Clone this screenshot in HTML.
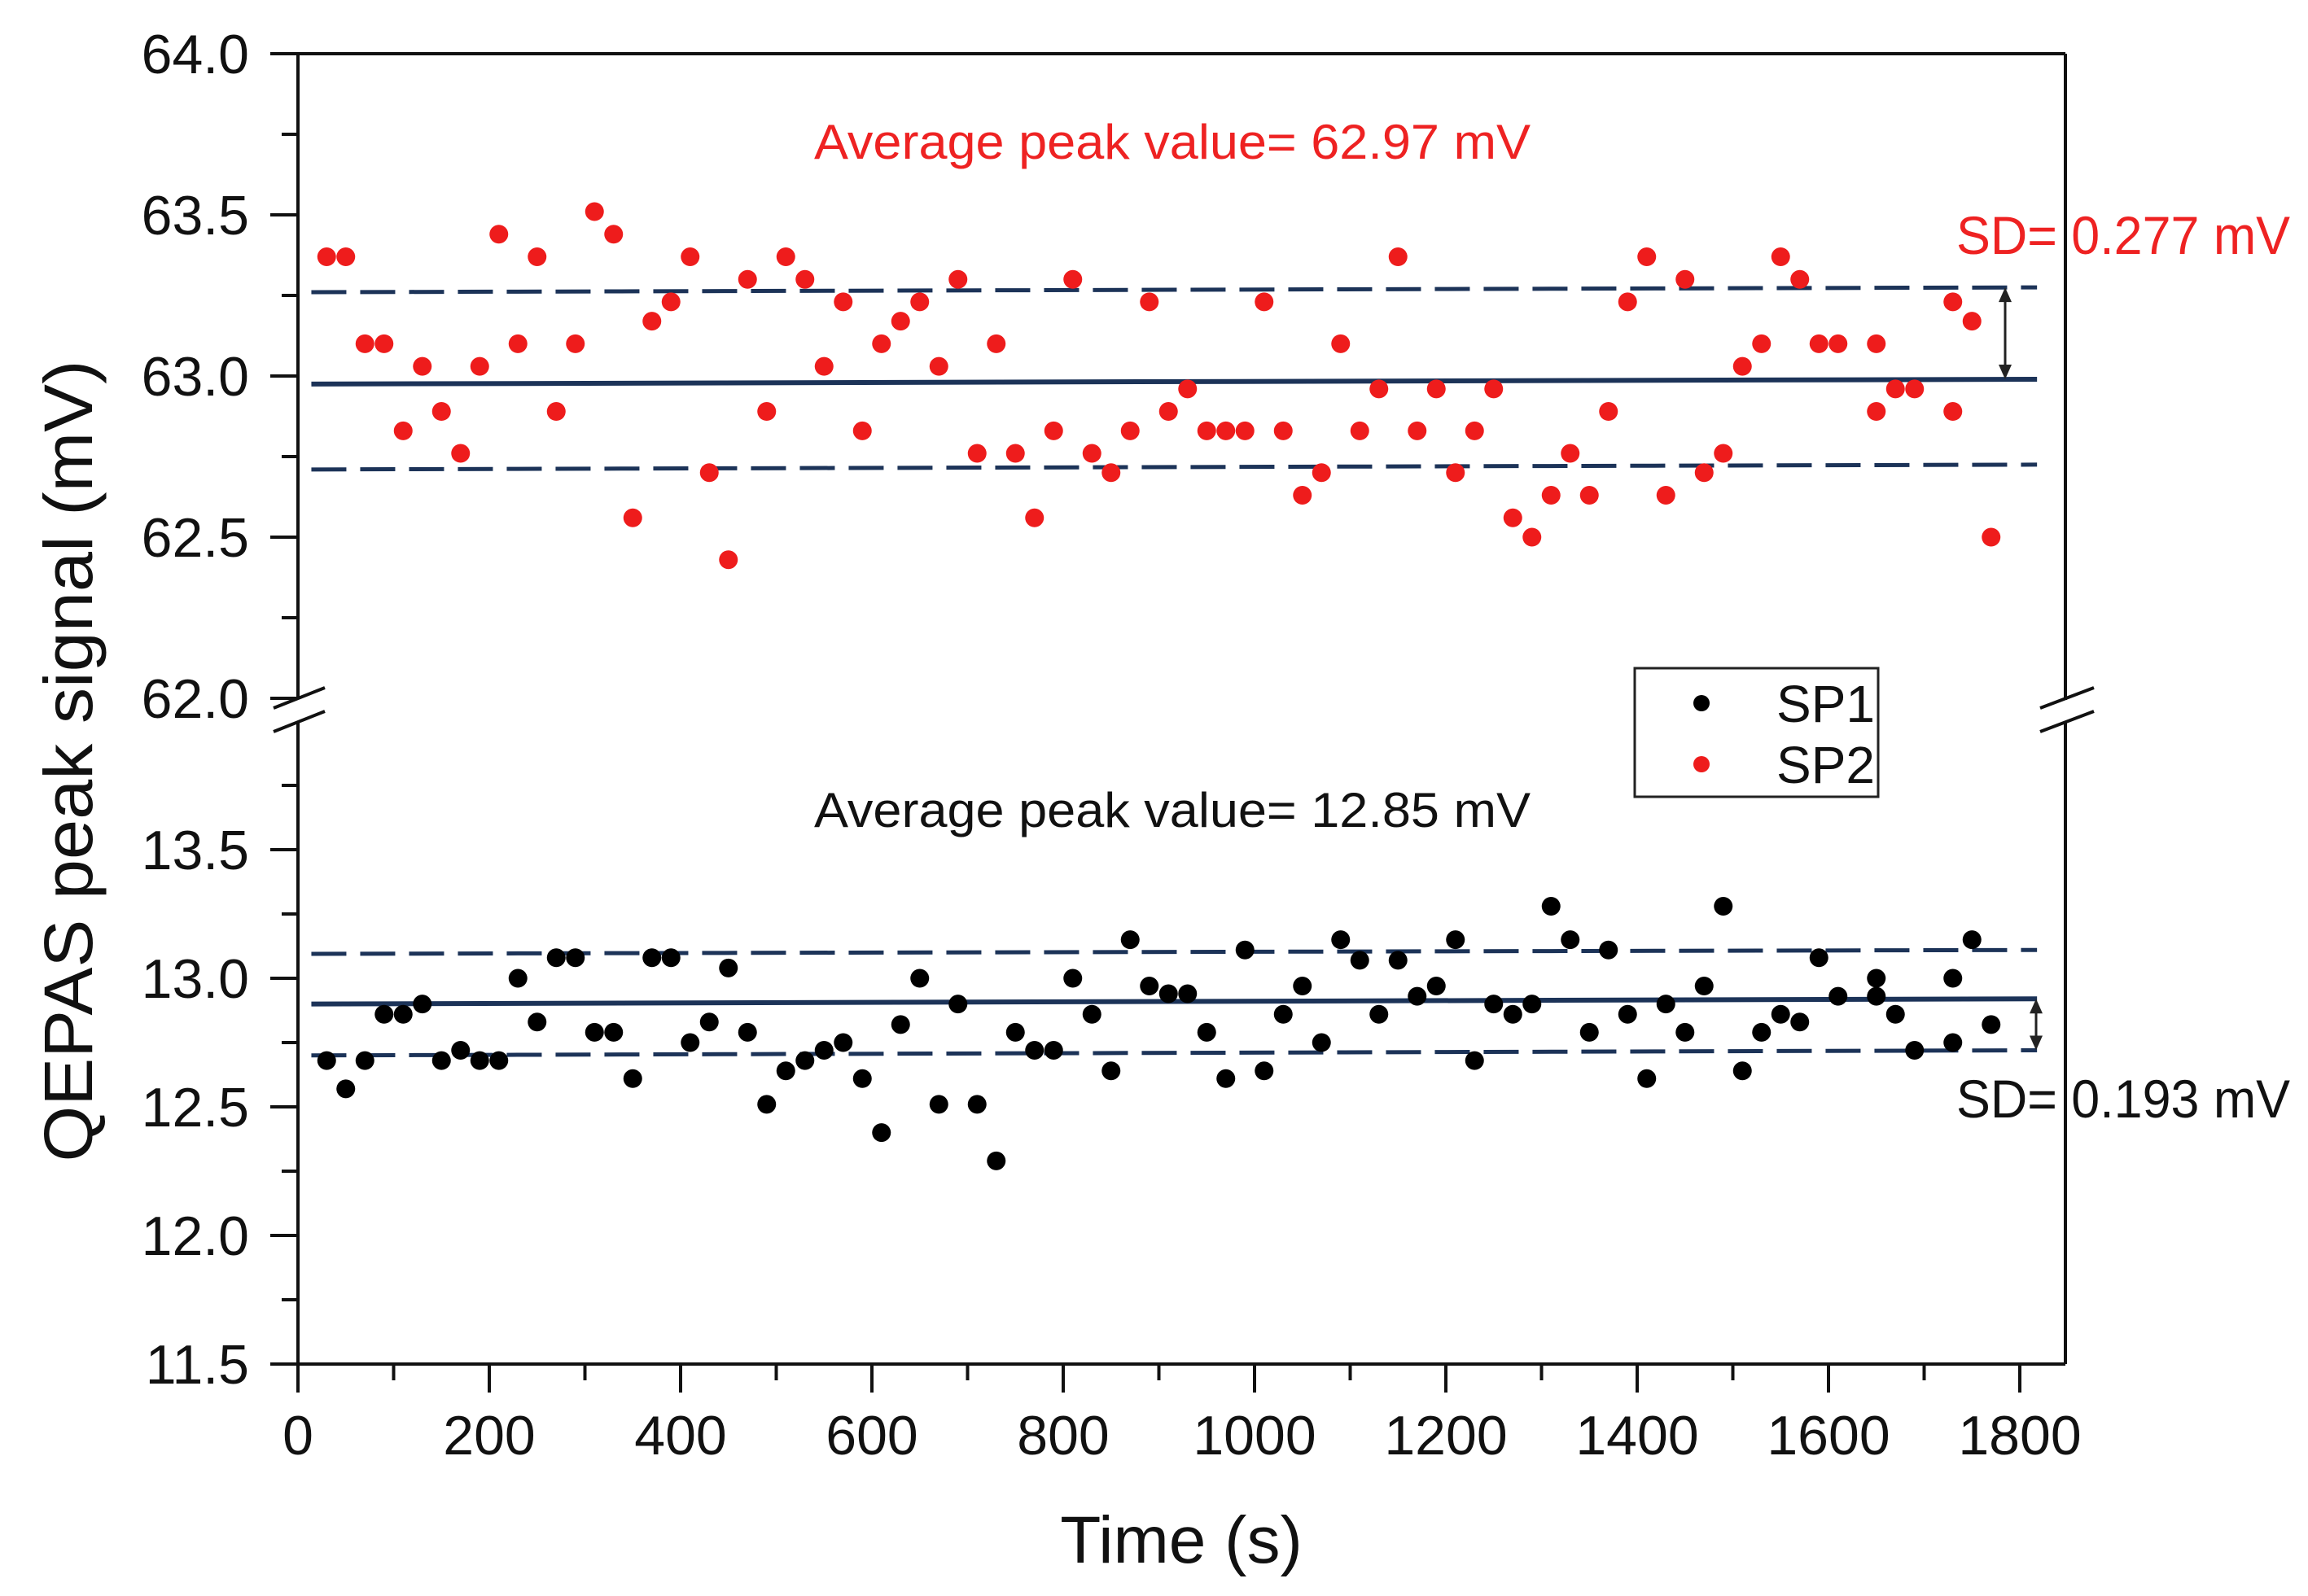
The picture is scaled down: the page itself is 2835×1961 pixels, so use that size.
<!DOCTYPE html>
<html><head><meta charset="utf-8"><style>
html,body{margin:0;padding:0;background:#fff;}
svg{display:block;}
text{font-family:"Liberation Sans",Arial,sans-serif;}
</style></head><body>
<svg id="chart" width="2835" height="1961" viewBox="0 0 2835 1961" xmlns="http://www.w3.org/2000/svg">
<rect width="2835" height="1961" fill="#fff"/>
<g id="axes"></g>
<g id="lines"></g>
<g id="marks"></g>
<g id="ann">
<text x="1000" y="195" font-size="60" fill="#ee2222" textLength="880" lengthAdjust="spacingAndGlyphs">Average peak value= 62.97 mV</text>
<text x="1000" y="1016" font-size="60" fill="#111" textLength="880" lengthAdjust="spacingAndGlyphs">Average peak value= 12.85 mV</text>
<text x="2403" y="312" font-size="66" fill="#ee2222" textLength="410" lengthAdjust="spacingAndGlyphs">SD= 0.277 mV</text>
<text x="2403" y="1373" font-size="66" fill="#111" textLength="410" lengthAdjust="spacingAndGlyphs">SD= 0.193 mV</text>
<text x="1451" y="1920" font-size="82" text-anchor="middle" fill="#111">Time (s)</text>
<text transform="translate(113,935) rotate(-90)" font-size="84" text-anchor="middle" fill="#111" textLength="985" lengthAdjust="spacingAndGlyphs">QEPAS peak signal (mV)</text>
</g>
<g id="legend">
<rect x="2008" y="821" width="299" height="158" fill="#fff" stroke="#222" stroke-width="3"/>
<circle cx="2090" cy="864" r="10" fill="#000"/>
<text x="2182" y="887" font-size="64" fill="#111">SP1</text>
<circle cx="2090" cy="939" r="10" fill="#ee1c1c"/>
<text x="2182" y="962" font-size="64" fill="#111">SP2</text>
</g>
</svg>
<script>
const sp2Times = [30,50,70,90,110,130,150,170,190,210,230,250,270,290,310,330,350,370,390,410,430,450,470,490,510,530,550,570,590,610,630,650,670,690,710,730,750,770,790,810,830,850,870,890,910,930,950,970,990,1010,1030,1050,1070,1090,1110,1130,1150,1170,1190,1210,1230,1250,1270,1290,1310,1330,1350,1370,1390,1410,1430,1450,1470,1490,1510,1530,1550,1570,1590,1610,1650,1650,1670,1690,1730,1730,1750,1770];
const sp2Values = [63.37,63.37,63.10,63.10,62.83,63.03,62.89,62.76,63.03,63.44,63.10,63.37,62.89,63.10,63.51,63.44,62.56,63.17,63.23,63.37,62.70,62.43,63.30,62.89,63.37,63.30,63.03,63.23,62.83,63.10,63.17,63.23,63.03,63.30,62.76,63.10,62.76,62.56,62.83,63.30,62.76,62.70,62.83,63.23,62.89,62.96,62.83,62.83,62.83,63.23,62.83,62.63,62.70,63.10,62.83,62.96,63.37,62.83,62.96,62.70,62.83,62.96,62.56,62.50,62.63,62.76,62.63,62.89,63.23,63.37,62.63,63.30,62.70,62.76,63.03,63.10,63.37,63.30,63.10,63.10,63.10,62.89,62.96,62.96,63.23,62.89,63.17,62.50];
const sp1Times = [30,50,70,90,110,130,150,170,190,210,230,250,270,290,310,330,350,370,390,410,430,450,470,490,510,530,550,570,590,610,630,650,670,690,710,730,750,770,790,810,830,850,870,890,910,930,950,970,990,1010,1030,1050,1070,1090,1110,1130,1150,1170,1190,1210,1230,1250,1270,1290,1310,1330,1350,1370,1390,1410,1430,1450,1470,1490,1510,1530,1550,1570,1590,1610,1650,1650,1670,1690,1730,1730,1750,1770];
const sp1Values = [12.68,12.57,12.68,12.86,12.86,12.90,12.68,12.72,12.68,12.68,13.00,12.83,13.08,13.08,12.79,12.79,12.61,13.08,13.08,12.75,12.83,13.04,12.79,12.51,12.64,12.68,12.72,12.75,12.61,12.40,12.82,13.00,12.51,12.90,12.51,12.29,12.79,12.72,12.72,13.00,12.86,12.64,13.15,12.97,12.94,12.94,12.79,12.61,13.11,12.64,12.86,12.97,12.75,13.15,13.07,12.86,13.07,12.93,12.97,13.15,12.68,12.90,12.86,12.90,13.28,13.15,12.79,13.11,12.86,12.61,12.90,12.79,12.97,13.28,12.64,12.79,12.86,12.83,13.08,12.93,13.00,12.93,12.86,12.72,13.00,12.75,13.15,12.82];
const upperFit = [62.975, 62.99];
const upperBand = [63.26, 63.275, 62.71, 62.725];
const lowerFit = [12.90, 12.92];
const lowerBand = [13.095, 13.11, 12.70, 12.72];
const fitTimes = [14, 1818];
const xTicks = [0,200,400,600,800,1000,1200,1400,1600,1800];
const upperTicks = [62.0,62.5,63.0,63.5,64.0];
const lowerTicks = [11.5,12.0,12.5,13.0,13.5];

const NS='http://www.w3.org/2000/svg';
const X0=366, XS=1.175, L=366, R=2537, TOP=66, BOT=1676;
const xs=t=>X0+t*XS;
const yU=v=>858-(v-62)*396;
const yL=v=>1676-(v-11.5)*316;
function mk(parent,tag,attrs){const e=document.createElementNS(NS,tag);for(const k in attrs)e.setAttribute(k,attrs[k]);parent.appendChild(e);return e;}
const axes=document.getElementById('axes'), lines=document.getElementById('lines'), marks=document.getElementById('marks');
const AX={stroke:'#111','stroke-width':4,fill:'none'};
let e;
e=mk(axes,'line',Object.assign({x1:L,y1:BOT,x2:R,y2:BOT},AX));


e=mk(axes,'line',Object.assign({x1:L,y1:TOP,x2:R,y2:TOP},AX));


e=mk(axes,'line',Object.assign({x1:L,y1:TOP,x2:L,y2:858},AX));


e=mk(axes,'line',Object.assign({x1:L,y1:886,x2:L,y2:BOT},AX));


e=mk(axes,'line',Object.assign({x1:R,y1:TOP,x2:R,y2:860},AX));


e=mk(axes,'line',Object.assign({x1:R,y1:886,x2:R,y2:BOT},AX));


[[L,336,399],[R,2506,2572]].forEach(([ax,a,b])=>{
  [[870,845],[899,874]].forEach(([y1,y2])=>{
    e=mk(axes,'line',{x1:a,y1:y1,x2:b,y2:y2,stroke:'#111','stroke-width':4});
    
    
  });
});
xTicks.forEach(t=>{
  e=mk(axes,'line',{x1:xs(t),y1:BOT,x2:xs(t),y2:BOT+35,stroke:'#111','stroke-width':4});
  
  
  e=mk(axes,'text',{x:xs(t),y:1787,'font-size':68,'text-anchor':'middle',fill:'#111'});
  e.textContent=String(t);
  
  
  if(t<1800){
    e=mk(axes,'line',{x1:xs(t+100),y1:BOT,x2:xs(t+100),y2:BOT+20,stroke:'#111','stroke-width':4});
    
    
  }
});
function yTicks(ticks,f,minor){
  ticks.forEach(v=>{
    e=mk(axes,'line',{x1:L-34,y1:f(v),x2:L,y2:f(v),stroke:'#111','stroke-width':4});
    
    
    e=mk(axes,'text',{x:306,y:f(v)+24,'font-size':68,'text-anchor':'end',fill:'#111'});
    e.textContent=v.toFixed(1);
    
    
  });
  minor.forEach(v=>{
    e=mk(axes,'line',{x1:L-20,y1:f(v),x2:L,y2:f(v),stroke:'#111','stroke-width':4});
    
    
  });
}
yTicks(upperTicks,yU,[62.25,62.75,63.25,63.75]);
yTicks(lowerTicks,yL,[11.75,12.25,12.75,13.25,13.75]);

function fit(vals,f,dash,name){
  e=mk(lines,'line',{x1:xs(fitTimes[0]),y1:f(vals[0]),x2:xs(fitTimes[1]),y2:f(vals[1]),stroke:'#1c3358','stroke-width':dash?5:6,'stroke-dasharray':dash?'43 17':'none'});
  
  
}
fit(upperFit,yU,false,'sp2-mean-line');
fit([upperBand[0],upperBand[1]],yU,true,'sp2-upper-sd-line');
fit([upperBand[2],upperBand[3]],yU,true,'sp2-lower-sd-line');
fit(lowerFit,yL,false,'sp1-mean-line');
fit([lowerBand[0],lowerBand[1]],yL,true,'sp1-upper-sd-line');
fit([lowerBand[2],lowerBand[3]],yL,true,'sp1-lower-sd-line');
function arrow(x,y1,y2,name){
  const g=mk(lines,'g',{});
  
  
  mk(g,'line',{x1:x,y1:y1+14,x2:x,y2:y2-14,stroke:'#222','stroke-width':3});
  mk(g,'path',{d:`M${x-8} ${y1+18}L${x} ${y1}L${x+8} ${y1+18}Z`,fill:'#222'});
  mk(g,'path',{d:`M${x-8} ${y2-18}L${x} ${y2}L${x+8} ${y2-18}Z`,fill:'#222'});
}
arrow(2463,yU(upperBand[1]),yU(upperFit[1]),'sp2-sd-arrow');
arrow(2501,yL(lowerFit[1]),yL(lowerBand[3]),'sp1-sd-arrow');

sp2Times.forEach((t,i)=>{
  const c=mk(marks,'circle',{cx:xs(t),cy:yU(sp2Values[i]),r:11.5,fill:'#ee1c1c'});
  
  
});
sp1Times.forEach((t,i)=>{
  const c=mk(marks,'circle',{cx:xs(t),cy:yL(sp1Values[i]),r:11.5,fill:'#000'});
  
  
});
</script>
</body></html>
